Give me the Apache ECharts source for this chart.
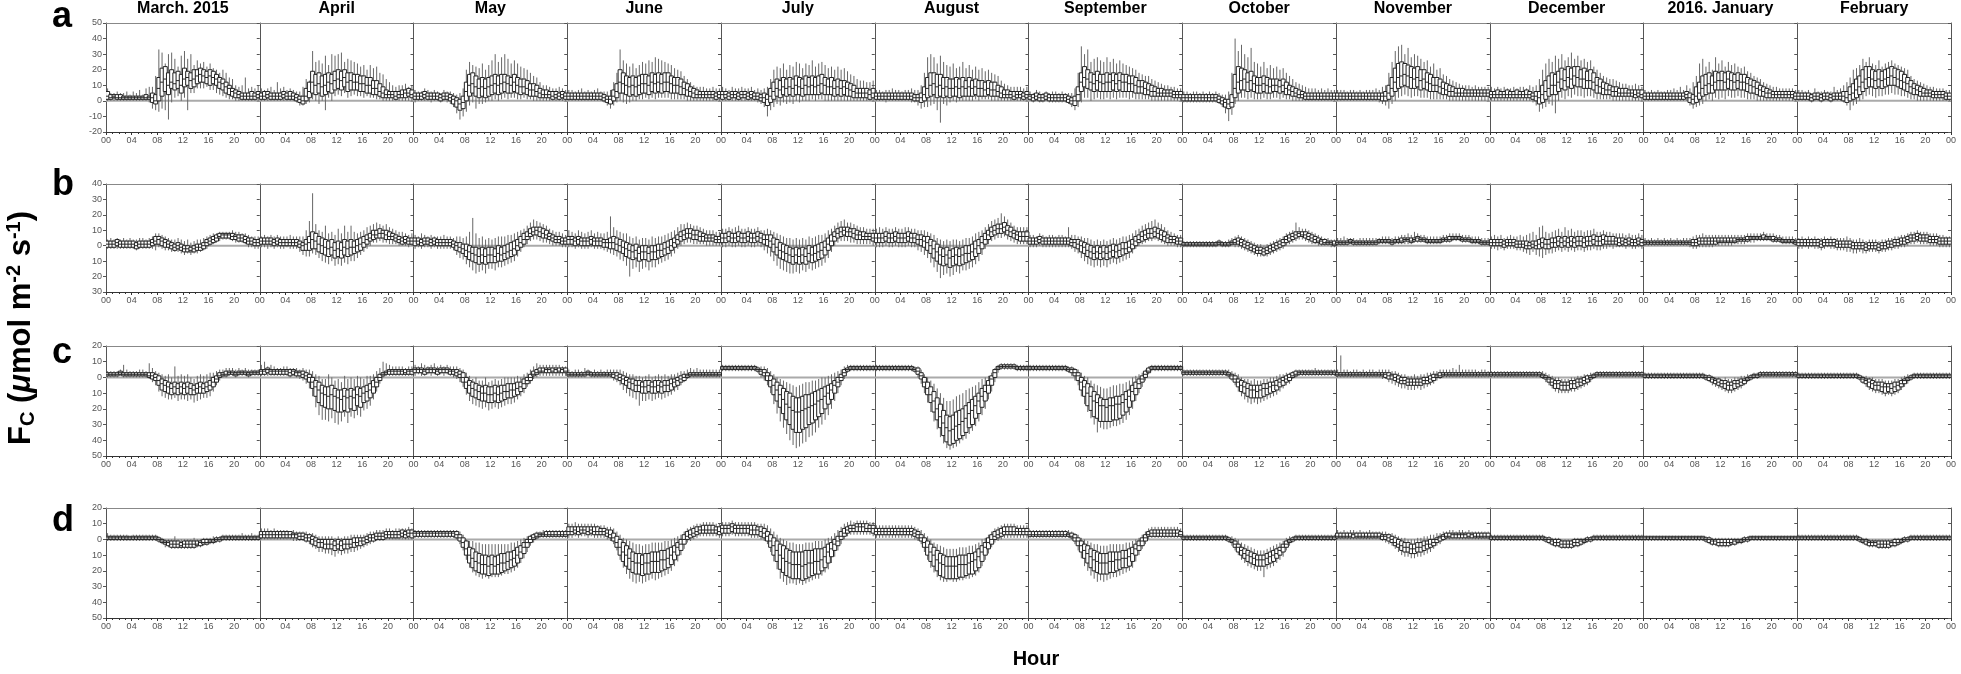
<!DOCTYPE html>
<html><head><meta charset="utf-8">
<script src="https://cdn.jsdelivr.net/npm/echarts@6/dist/echarts.min.js"></script>
<style>html,body{margin:0;padding:0;background:#fff}#c{width:1961px;height:674px}</style>
</head><body><div id="c"></div>
<script>
const months = ['March. 2015','April','May','June','July','August','September','October','November','December','2016. January','February'];
const rowLetters = ['a','b','c','d'];
const yMin = [-20,-30,-50,-50];
const yMax = [50,40,20,20];
const yStep = 10;
const hourStep = 4;
const xTitle = 'Hour';

// ---- Row a : 48 half-hourly boxes per month (lo, q1, median, q3, hi) ----
const aMed = [
[3,2,3,2,2,2,2,2,2,2,2,2,2,2,2,0,8,12,14,10,12,11,13,10,14,15,13,14,16,17,16,15,16,15,14,12,11,9,8,6,5,4,3,3,3,3,3,4],
[3,3,4,3,3,3,3,4,3,3,3,2,1,0,3,6,12,10,11,9,10,12,11,13,14,13,15,12,13,12,12,11,11,10,10,8,8,6,5,4,4,4,3,4,4,5,5,4],
[3,3,3,4,3,3,3,3,2,3,3,2,1,0,-2,-1,6,10,11,9,8,9,8,9,10,11,10,11,12,11,10,12,10,9,9,8,7,7,6,5,4,4,4,3,4,3,4,3],
[3,3,3,3,3,3,3,3,3,3,3,2,1,1,3,6,12,11,10,9,10,9,10,11,11,10,12,11,12,11,12,12,11,10,10,9,8,7,6,5,4,4,4,4,4,4,3,4],
[4,4,3,4,4,3,4,4,3,4,3,3,2,2,1,3,6,8,7,9,8,9,8,10,9,8,10,9,10,9,10,11,10,9,9,8,9,8,9,8,7,6,5,5,5,5,4,5],
[3,3,3,3,3,3,3,3,3,3,3,3,2,2,2,4,8,10,11,9,10,8,9,8,8,9,8,9,8,9,8,9,8,8,7,8,7,7,6,5,4,4,4,3,4,4,3,4],
[3,2,3,2,2,3,2,2,2,2,2,2,1,0,0,4,12,15,14,12,11,13,12,11,12,12,13,11,13,12,12,11,11,10,9,9,8,7,6,6,5,5,5,5,5,4,4,4],
[2,2,2,2,2,2,2,2,2,2,2,1,0,-1,-2,-1,8,12,13,14,12,13,11,10,10,11,10,9,10,10,9,10,8,7,6,5,4,4,3,3,3,3,3,3,3,3,3,3],
[3,3,3,3,3,3,3,3,3,3,3,3,3,3,3,3,5,8,12,15,16,17,16,15,14,15,13,14,12,11,10,10,9,8,7,6,6,5,5,5,5,5,5,5,5,5,5,5],
[4,4,4,4,4,4,4,4,4,4,4,4,4,3,3,2,4,6,8,10,10,12,14,13,15,14,16,15,14,14,13,13,12,10,9,8,7,7,6,6,5,5,5,5,5,4,5,4],
[3,3,3,3,3,3,3,3,3,3,3,3,3,4,2,1,3,5,8,10,11,10,12,13,13,12,14,13,12,13,12,12,11,10,9,8,7,6,5,5,4,4,4,4,4,4,4,3],
[3,3,3,3,2,3,3,2,3,3,2,3,3,3,3,2,4,5,7,9,12,14,15,14,13,14,13,14,15,16,15,14,13,12,11,9,8,7,6,5,5,5,4,4,4,4,3,3]
];
const aQ1 = [
[1,1,2,1,1,1,1,1,1,1,1,1,1,1,-1,-2,0,3,6,4,8,7,8,5,9,10,8,9,11,12,12,11,10,11,10,8,7,5,4,3,2,2,1,1,1,1,1,2],
[1,1,2,1,1,1,1,2,1,1,1,0,-1,-2,0,2,5,4,5,3,4,6,5,7,8,7,9,6,7,7,7,6,6,5,5,4,4,3,2,2,2,2,1,2,2,2,3,2],
[1,1,1,2,1,1,1,1,0,1,1,0,-2,-4,-6,-5,0,3,5,3,2,3,2,3,4,5,4,5,6,5,5,6,5,4,5,4,3,3,3,2,2,2,2,1,2,1,2,1],
[1,1,1,1,1,1,1,1,1,1,1,0,-1,-2,0,2,5,5,4,3,4,3,4,5,5,4,6,5,6,5,6,6,5,5,5,4,4,3,3,2,2,2,2,2,2,2,1,2],
[1,2,1,2,2,1,2,2,1,2,1,1,0,-1,-3,-1,1,3,2,4,3,4,3,4,4,3,4,4,4,4,4,5,4,4,4,3,4,3,4,3,3,2,2,2,2,2,1,2],
[1,1,1,1,1,1,1,1,1,1,1,1,0,0,-1,0,2,3,4,2,3,2,3,2,3,3,2,3,3,3,3,4,3,3,3,4,3,3,3,2,2,2,2,1,2,2,1,2],
[1,0,1,0,0,1,0,0,0,0,0,0,-1,-2,-3,0,6,9,8,7,6,7,6,6,6,6,7,6,7,6,6,6,6,5,5,5,4,4,3,3,3,3,3,3,3,2,2,2],
[0,0,0,0,0,0,0,0,0,0,0,-1,-2,-4,-5,-4,2,5,7,7,6,7,6,5,5,6,5,5,6,6,5,6,4,4,3,3,2,2,1,1,1,1,1,1,1,1,1,1],
[1,1,1,1,1,1,1,1,1,1,1,1,1,1,0,0,1,3,6,8,9,10,9,8,8,9,7,8,7,6,6,6,5,4,4,3,3,3,3,3,3,3,3,3,3,3,3,3],
[2,2,2,2,2,2,2,2,2,2,2,2,2,1,0,-2,-1,1,3,4,4,6,8,7,9,8,10,9,9,8,8,8,7,5,5,4,4,4,3,3,3,3,3,3,3,2,3,2],
[1,1,1,1,1,1,1,1,1,1,1,1,1,2,-1,-2,-1,1,3,4,5,5,7,7,7,7,8,7,7,8,7,7,6,5,5,4,3,3,2,2,2,2,2,2,2,2,2,1],
[1,1,1,1,0,1,1,0,1,1,0,1,1,1,0,-1,0,1,2,4,6,8,9,9,8,9,8,9,10,10,10,9,8,7,6,5,4,4,3,3,3,3,2,2,2,2,1,1]
];
const aQ3 = [
[6,4,4,4,4,3,3,3,3,3,3,3,4,3,5,4,15,21,22,18,20,18,19,17,21,19,18,20,20,21,20,19,20,19,17,15,14,12,10,8,7,6,5,5,5,6,5,6],
[5,6,6,5,5,5,5,6,5,6,5,4,3,3,8,12,19,17,18,16,17,18,17,19,20,19,20,18,18,17,17,16,16,15,15,13,13,11,9,7,6,6,6,6,7,7,8,7],
[5,5,5,6,5,5,5,5,4,5,5,4,3,2,1,3,12,17,18,16,14,15,14,15,16,17,16,17,17,16,15,17,15,14,14,13,11,11,10,8,7,7,6,6,6,5,6,5],
[5,5,5,5,5,5,5,5,5,5,5,4,3,3,7,11,20,18,16,15,16,15,16,17,17,16,18,17,18,17,18,18,16,15,15,14,12,11,9,8,7,6,6,6,6,6,5,6],
[6,6,5,6,6,5,6,6,5,6,5,5,4,5,4,8,12,14,13,15,14,15,14,16,15,14,16,15,16,15,16,17,15,14,15,13,14,13,13,12,11,10,8,8,8,8,7,8],
[5,5,5,5,5,5,5,5,5,5,5,5,4,4,5,9,15,18,18,17,17,15,15,14,14,15,14,15,13,15,13,14,13,13,12,13,12,12,10,9,7,7,6,6,6,6,5,6],
[4,4,5,4,4,5,4,4,4,4,4,4,3,2,3,9,18,22,20,18,17,19,17,17,18,17,18,17,18,17,17,16,16,15,13,13,12,11,10,9,8,8,7,7,7,6,6,6],
[4,4,4,4,4,4,4,4,4,4,4,3,2,1,1,4,17,22,21,20,18,19,16,15,15,16,15,14,14,14,13,14,12,10,9,8,7,6,5,5,5,5,5,5,5,5,5,5],
[5,5,5,5,5,5,5,5,5,5,5,5,5,5,5,6,10,15,21,24,25,24,23,22,21,22,20,20,18,17,15,15,14,12,11,10,9,8,8,8,7,7,7,7,7,7,7,7],
[6,6,7,6,6,7,6,6,7,6,6,7,6,5,6,6,10,13,16,18,17,19,21,20,22,21,22,22,20,21,19,20,18,15,14,12,11,10,9,9,8,8,8,7,7,7,7,7],
[5,5,5,5,5,5,5,5,5,5,5,5,5,6,5,4,9,12,16,17,18,16,19,18,19,18,19,18,17,18,17,17,15,14,13,12,10,9,8,7,6,6,6,6,6,6,6,5],
[5,5,5,5,4,5,5,4,5,5,4,5,5,5,6,6,9,11,14,16,20,22,22,20,19,20,19,20,21,22,21,20,19,17,15,13,11,10,9,8,7,7,6,6,6,6,5,5]
];
const aLo = [
[0,0,0,0,0,0,0,0,0,0,0,0,0,-1,-5,-6,-7,-5,-6,-12,-1,2,3,0,2,-6,5,5,8,8,8,9,7,7,5,4,3,2,1,1,0,0,0,0,0,0,0,0],
[0,0,0,0,0,0,0,0,0,0,0,-1,-3,-3,-2,-1,1,0,-2,0,-6,2,0,3,4,3,5,2,3,4,3,3,2,3,2,2,1,1,0,0,0,0,0,0,0,0,0,0],
[-1,0,0,0,0,-1,0,0,-1,0,-1,-2,-4,-8,-12,-10,-7,-3,-1,-5,-2,-2,-1,0,0,1,0,1,2,1,2,2,1,1,2,1,1,0,0,0,0,0,0,0,0,0,0,0],
[0,0,0,0,0,0,0,0,0,0,0,-1,-3,-5,-3,-1,0,-1,-2,-1,0,0,1,1,2,1,2,1,2,2,2,2,1,1,1,1,1,0,0,0,0,0,0,0,0,0,0,0],
[0,0,0,0,0,0,0,0,0,0,0,-1,-2,-4,-10,-6,-4,-2,-3,-1,-2,-1,-2,0,-1,0,0,0,1,0,1,1,0,0,0,0,0,0,0,0,0,0,0,0,0,0,0,0],
[0,0,0,-1,0,0,0,0,0,0,0,-1,-1,-3,-5,-4,-4,-3,-2,-6,-14,-2,-3,-1,0,-1,0,0,0,0,0,1,0,1,1,1,0,0,0,0,0,0,0,0,0,0,0,0],
[0,-1,0,-1,-1,0,-1,-1,-1,-1,-1,-1,-2,-4,-6,-4,-1,2,2,0,1,2,1,1,2,1,2,1,2,2,2,1,2,1,1,1,1,1,0,0,0,0,0,0,0,0,0,0],
[-1,-1,-1,-1,-1,-1,-1,-1,-1,-1,-1,-2,-4,-8,-13,-9,-2,0,2,2,1,2,1,1,1,2,1,1,2,2,1,2,1,1,0,0,0,0,0,0,0,0,0,0,0,0,0,0],
[0,0,0,0,0,0,0,0,0,0,0,0,0,-1,-2,-3,-5,-2,0,2,3,4,3,2,3,3,2,2,2,1,1,1,1,1,1,0,0,0,0,0,0,0,0,0,0,0,0,0],
[0,0,0,0,0,0,0,0,0,0,0,0,0,-1,-3,-7,-5,-4,-2,-3,-8,0,2,1,3,2,4,3,3,2,3,3,2,1,1,1,1,1,0,0,0,0,0,0,0,0,0,0],
[0,0,0,0,0,0,0,0,0,0,0,0,0,0,-3,-5,-4,-3,-2,0,1,0,2,1,2,1,3,2,2,3,2,2,1,1,1,0,0,0,0,0,0,0,0,0,0,0,0,0],
[0,0,0,0,-1,0,0,-1,0,0,-1,0,0,0,-1,-3,-6,-3,-2,0,1,3,4,3,2,3,3,4,4,5,4,4,3,3,2,1,1,0,0,0,0,0,0,0,0,0,0,0]
];
const aHi = [
[8,5,5,6,5,5,6,4,6,5,7,4,8,9,9,16,33,31,24,30,31,27,22,29,32,27,30,23,26,24,25,22,24,21,20,18,20,18,15,14,10,9,10,15,8,9,8,10],
[8,7,8,9,7,12,8,9,7,8,7,6,6,9,14,13,32,25,26,24,29,23,30,29,30,31,25,27,26,25,24,22,23,20,23,21,22,18,17,14,12,10,9,10,10,11,9,10],
[7,6,6,8,7,6,7,6,5,7,6,6,5,4,5,8,20,25,23,22,21,24,20,23,26,30,25,28,30,27,24,26,24,22,21,20,18,16,15,12,10,10,9,8,8,9,8,7],
[7,7,6,7,8,6,7,6,7,8,6,6,6,7,12,18,33,26,24,22,24,21,23,25,24,26,25,28,27,26,25,24,23,21,20,19,16,14,12,10,9,9,9,8,8,9,8,8],
[9,8,7,9,8,8,9,8,8,9,7,8,7,8,9,14,20,22,21,24,20,23,22,25,24,21,24,23,26,22,24,25,23,21,22,20,22,20,21,19,17,16,14,13,13,12,12,13],
[7,7,6,7,7,8,7,7,6,7,7,8,7,7,10,18,28,30,28,24,29,25,23,22,24,21,22,25,21,23,20,22,20,21,19,20,18,17,16,13,11,10,9,9,9,9,8,9],
[6,5,7,6,5,6,5,6,6,5,6,5,5,5,8,18,35,30,33,25,27,28,26,25,28,25,27,24,26,24,23,22,21,20,18,17,16,16,14,13,12,11,10,10,9,9,8,8],
[6,6,5,6,6,5,6,5,6,5,6,5,4,4,6,18,40,32,36,30,28,34,25,24,22,25,21,23,21,22,20,21,18,16,14,12,11,10,9,8,8,8,7,8,7,8,7,7],
[7,7,7,6,7,7,6,7,6,7,7,7,8,7,9,10,18,25,32,35,36,30,34,28,30,29,27,25,26,22,24,20,21,17,16,14,13,12,11,10,10,10,9,10,9,9,9,9],
[9,8,9,8,9,8,8,9,8,9,9,8,10,9,10,14,20,24,27,25,29,27,30,26,28,31,27,29,26,27,25,26,22,20,18,16,15,14,14,13,12,11,11,10,10,11,10,9],
[7,6,7,6,7,6,6,7,7,8,7,9,7,10,8,12,16,24,27,22,25,20,28,24,26,22,25,23,24,22,21,22,19,18,16,15,14,12,11,10,9,9,8,8,8,8,8,7],
[7,7,6,7,5,8,6,6,7,6,6,9,7,8,10,12,15,20,21,23,27,25,28,24,23,26,22,24,25,26,24,23,22,21,20,16,14,13,12,11,10,9,9,8,8,8,7,7]
];

// ---- Row b ----
const bMed = [
[1,1,1,2,1,1,1,1,1,0,1,1,1,1,2,3,4,3,2,1,0,-1,0,-1,-2,-2,-3,-2,-1,-1,0,2,3,4,5,6,7,7,7,6,6,5,5,4,3,3,2,2],
[3,3,3,3,2,3,2,2,2,2,2,2,1,0,1,2,4,3,1,0,-1,-2,-1,-3,-2,-3,-1,-2,-1,-1,0,1,2,4,5,7,7,8,8,7,6,6,5,4,3,4,3,3],
[3,3,2,3,3,2,3,2,2,2,2,2,1,0,-1,-2,-3,-4,-5,-6,-7,-6,-7,-6,-6,-7,-5,-6,-5,-4,-3,-2,0,2,4,6,8,9,10,9,8,7,6,5,4,4,3,3],
[4,4,3,4,3,3,3,4,3,3,3,2,2,2,2,1,0,-1,-2,-3,-4,-3,-5,-4,-4,-5,-4,-4,-3,-3,-2,-1,0,2,4,6,7,8,8,7,7,6,6,5,5,5,4,4],
[5,5,6,5,5,6,5,5,6,5,5,6,5,4,4,3,1,-1,-3,-4,-5,-6,-7,-6,-7,-6,-7,-5,-6,-5,-4,-3,-1,1,3,6,8,9,10,9,9,8,7,7,6,6,6,5],
[5,5,5,6,5,5,6,5,5,5,6,5,5,4,4,3,2,0,-2,-4,-6,-7,-6,-8,-7,-6,-7,-6,-5,-5,-4,-2,0,2,4,7,9,10,11,11,12,10,9,8,7,6,6,6],
[3,3,3,4,3,3,3,3,3,3,3,3,3,2,2,1,0,-1,-3,-4,-5,-4,-5,-4,-5,-4,-3,-4,-3,-2,-2,-1,1,3,4,6,7,8,8,9,8,7,6,5,4,4,3,3],
[1,1,1,1,1,1,1,1,1,1,1,2,1,1,1,2,2,3,2,1,0,-1,-2,-3,-3,-4,-3,-2,-1,0,1,2,4,5,6,7,8,7,7,6,5,4,3,3,2,2,2,1],
[2,2,2,2,3,2,2,2,2,2,2,2,2,3,3,3,3,2,3,3,3,4,4,3,4,5,4,4,3,3,3,3,3,4,4,4,5,5,5,4,4,4,3,3,3,2,2,2],
[2,2,2,2,1,2,2,2,1,1,1,0,0,1,0,1,2,1,1,2,2,3,2,3,2,3,2,3,3,2,3,3,4,3,3,4,3,3,3,3,2,3,2,3,2,2,3,2],
[2,2,2,2,2,2,2,2,2,2,2,2,2,2,2,2,2,3,3,3,3,3,3,3,3,3,3,3,3,4,4,4,4,5,5,5,5,5,5,5,4,4,4,3,3,3,3,2],
[2,2,2,2,2,2,2,1,2,2,2,2,1,1,1,1,1,0,0,0,0,-1,0,0,0,-1,0,0,1,1,2,2,3,3,4,5,5,6,5,5,5,4,4,4,3,3,3,3]
];
const bQ1 = [
[-1,-1,-1,0,-1,-1,-1,-1,-1,-2,-1,-1,-1,-1,0,1,1,0,-1,-1,-2,-3,-2,-3,-4,-4,-4,-4,-3,-3,-2,0,1,2,3,5,5,5,5,4,4,3,3,2,1,1,0,0],
[1,1,1,1,0,1,0,0,0,0,0,0,-1,-3,-3,-3,-2,-2,-4,-5,-6,-7,-6,-8,-7,-8,-6,-7,-6,-5,-4,-3,-1,1,3,4,5,5,5,4,4,4,3,2,1,2,1,1],
[0,1,0,1,1,0,1,0,0,0,0,0,-1,-3,-4,-5,-7,-9,-10,-11,-12,-11,-12,-11,-11,-11,-10,-10,-9,-8,-7,-6,-3,-1,1,4,6,7,7,6,5,5,4,3,2,2,1,1],
[1,1,0,1,0,0,0,1,0,0,0,-1,-1,-2,-2,-3,-4,-5,-7,-8,-9,-8,-10,-9,-9,-10,-9,-9,-8,-7,-6,-5,-3,-1,1,3,4,5,5,4,4,3,3,3,3,3,2,2],
[2,2,3,2,2,3,2,2,3,2,2,3,2,1,0,-1,-4,-6,-8,-9,-10,-11,-12,-11,-12,-11,-12,-10,-11,-10,-9,-8,-6,-3,0,3,5,6,7,6,6,5,4,4,4,4,4,3],
[2,2,2,3,2,2,3,2,2,2,3,2,2,1,0,-1,-3,-5,-8,-10,-12,-13,-12,-14,-13,-12,-13,-12,-11,-10,-9,-7,-5,-2,1,4,6,7,8,8,9,7,6,5,4,3,3,3],
[1,1,1,2,1,1,1,1,1,1,1,1,1,0,-1,-2,-4,-5,-7,-8,-9,-8,-9,-8,-9,-8,-7,-8,-7,-6,-5,-4,-2,0,2,3,4,5,5,6,5,4,3,2,2,2,1,1],
[0,0,0,0,0,0,0,0,0,0,0,1,0,0,0,1,1,1,0,-1,-2,-3,-4,-5,-5,-6,-5,-4,-3,-2,-1,0,2,3,4,5,6,6,5,4,3,2,2,1,1,1,1,0],
[1,1,1,1,2,1,1,1,1,1,1,1,1,2,2,2,2,1,2,2,2,3,3,2,3,3,3,3,2,2,2,2,2,3,3,3,4,4,4,3,3,3,2,2,2,1,1,1],
[0,0,0,0,-1,0,0,0,-1,-1,-1,-2,-2,-1,-2,-2,-1,-2,-2,-1,-1,0,-1,0,-1,0,-1,0,0,-1,0,0,1,0,0,1,1,1,1,1,0,1,0,1,0,0,1,0],
[1,1,1,1,1,1,1,1,1,1,1,1,1,1,1,0,0,1,1,1,1,1,1,2,2,2,2,2,2,3,3,3,3,4,4,4,4,4,4,4,3,3,3,2,2,2,2,1],
[0,0,0,0,0,0,0,-1,0,0,0,0,-1,-1,-1,-1,-1,-2,-2,-2,-2,-3,-2,-2,-2,-3,-2,-2,-1,-1,0,0,1,1,2,3,3,4,3,3,3,2,2,2,1,1,1,1]
];
const bQ3 = [
[3,3,3,4,3,3,3,3,3,2,3,3,3,3,4,6,6,5,4,3,2,1,2,1,0,0,-1,0,1,1,2,4,5,6,7,8,8,8,8,8,7,7,7,6,5,5,4,4],
[5,5,5,5,4,5,4,4,4,4,4,4,3,2,4,6,9,8,6,5,4,3,4,2,3,2,4,3,4,3,4,5,6,7,8,10,10,11,10,10,9,8,7,6,5,6,5,5],
[5,5,4,5,5,4,5,4,4,4,4,4,3,2,2,1,1,0,-1,-1,-2,-1,-2,-1,-1,-2,0,-1,0,1,2,3,4,6,8,9,11,12,12,12,11,10,8,7,6,6,5,5],
[6,6,5,6,5,5,5,6,5,5,5,4,4,5,6,5,4,3,2,1,0,1,-1,0,0,-1,0,0,1,1,2,3,4,5,7,9,10,11,11,10,10,9,8,7,7,7,6,6],
[8,8,9,8,8,9,8,8,9,8,8,9,8,7,7,7,5,4,2,1,0,-1,-2,-1,-2,-1,-2,0,-1,0,1,2,3,5,7,9,11,12,12,12,11,11,10,9,9,8,8,8],
[8,8,8,9,8,8,9,8,8,8,9,8,8,7,7,6,6,4,3,1,-1,-2,-1,-3,-2,-1,-2,-1,0,0,1,3,4,6,8,10,12,13,14,14,15,13,12,10,9,9,9,9],
[5,5,5,6,5,5,5,5,5,5,5,5,5,4,4,4,3,2,1,0,-1,0,-1,0,-1,0,1,0,1,2,2,3,4,6,7,9,10,11,11,12,11,10,9,7,6,6,5,5],
[2,2,2,2,2,2,2,2,2,2,2,3,2,2,2,3,4,5,4,3,2,1,0,-1,-1,-2,-1,0,1,2,3,4,6,7,8,9,9,9,9,8,7,6,5,4,4,3,3,3],
[3,3,3,3,4,3,3,3,3,3,3,3,3,4,4,4,4,3,4,4,5,5,5,5,5,6,5,5,4,4,4,4,4,5,5,6,6,6,6,5,5,5,4,4,4,3,3,3],
[4,4,4,4,3,4,4,4,3,3,3,3,2,3,3,4,5,4,4,5,5,6,5,6,5,6,5,6,6,5,6,6,7,6,6,7,6,6,6,5,5,5,4,5,4,4,5,4],
[3,3,3,3,3,3,3,3,3,3,3,3,3,3,3,4,4,5,5,5,5,5,5,5,5,5,5,5,5,5,5,5,6,6,6,6,6,7,6,6,6,5,5,4,4,4,4,3],
[4,4,4,4,4,4,4,3,4,4,4,4,3,3,3,3,3,2,2,2,2,1,2,2,2,1,2,2,3,3,4,4,5,5,6,7,7,8,7,7,7,6,6,6,5,5,5,5]
];
const bLo = [
[-2,-2,-2,-2,-2,-2,-2,-2,-2,-3,-2,-2,-2,-2,-2,-3,-1,-2,-3,-3,-4,-4,-4,-5,-6,-5,-6,-5,-5,-4,-3,-2,0,1,2,3,4,4,4,3,2,2,2,1,-1,-1,-2,-2],
[-1,-1,-2,-1,-2,-1,-2,-2,-1,-2,-2,-2,-4,-6,-7,-7,-5,-6,-8,-10,-11,-12,-10,-13,-12,-13,-11,-12,-10,-10,-8,-6,-4,-2,0,2,2,3,2,2,1,1,1,0,0,0,-1,0],
[-2,-1,-2,-1,-1,-2,-1,-2,-2,-2,-2,-2,-3,-6,-8,-9,-12,-14,-16,-18,-17,-16,-18,-15,-15,-16,-14,-14,-13,-12,-11,-10,-7,-4,-1,1,3,4,4,3,2,2,1,0,0,0,-1,-1],
[-1,-1,-2,-1,-2,-2,-2,-1,-2,-2,-2,-3,-4,-5,-6,-7,-9,-10,-13,-20,-15,-14,-17,-15,-14,-16,-14,-14,-12,-11,-10,-9,-7,-5,-2,0,1,2,2,1,1,1,1,0,0,0,0,0],
[-1,-1,0,-1,-1,0,-1,-1,0,-1,-1,0,-1,-3,-5,-7,-10,-13,-15,-16,-17,-18,-18,-17,-18,-16,-17,-15,-16,-15,-14,-13,-11,-8,-4,0,2,3,3,3,2,2,1,1,1,1,1,0],
[-1,-1,-1,0,-1,-1,0,-1,-1,-1,0,-1,-1,-3,-4,-6,-8,-11,-14,-17,-21,-19,-18,-20,-19,-17,-18,-16,-16,-15,-14,-12,-10,-6,-2,1,3,4,5,5,6,4,3,2,1,1,1,1],
[-1,-1,-1,0,-1,-1,-1,-1,-1,-1,-1,-1,-1,-2,-4,-5,-8,-10,-12,-13,-14,-13,-14,-13,-14,-12,-11,-12,-11,-10,-9,-8,-5,-2,0,1,2,3,3,4,3,2,1,0,0,0,-1,-1],
[-1,-1,-1,-1,-1,-1,-1,-1,-1,-1,-1,0,-1,-1,-1,0,-1,-1,-2,-3,-4,-5,-6,-7,-7,-7,-7,-6,-5,-4,-3,-2,0,1,2,3,4,4,3,2,1,1,0,0,0,0,-1,-1],
[0,0,0,0,1,0,0,0,0,0,0,0,0,1,1,1,1,0,1,1,1,1,1,1,2,2,2,2,1,1,1,1,1,2,2,2,3,3,3,2,2,2,1,1,1,0,0,0],
[-2,-2,-3,-2,-3,-2,-2,-2,-3,-3,-4,-5,-6,-4,-6,-7,-8,-6,-5,-5,-4,-3,-4,-3,-4,-3,-4,-3,-3,-4,-3,-3,-2,-3,-3,-2,-2,-1,-2,-1,-1,-1,-2,-1,-2,-2,-1,-2],
[0,0,0,0,0,0,0,0,0,0,0,0,0,0,-1,-2,-2,-1,-1,-1,-1,-1,0,0,0,0,0,0,1,1,1,1,2,2,2,3,3,3,3,3,2,2,2,1,1,1,1,0],
[-2,-2,-1,-2,-1,-2,-2,-3,-2,-1,-2,-2,-3,-3,-3,-4,-4,-5,-5,-4,-5,-5,-4,-4,-4,-5,-4,-4,-3,-3,-2,-2,-1,-1,0,1,1,2,1,1,1,0,0,0,-1,-1,-1,-1]
];
const bHi = [
[4,5,4,5,4,5,4,5,4,4,5,5,4,5,6,8,8,7,6,5,4,4,5,4,3,4,2,3,4,4,5,6,7,8,8,9,9,9,9,10,9,9,8,8,7,6,6,6],
[6,7,6,7,6,7,6,6,6,7,6,6,6,6,10,16,34,14,10,9,13,8,9,7,11,8,13,9,13,9,8,9,10,12,13,14,15,14,13,14,12,11,10,9,9,8,7,8],
[7,6,8,7,6,7,6,6,6,7,6,6,5,6,6,5,6,9,18,8,5,6,4,5,4,5,6,6,6,7,7,8,9,10,11,13,15,17,16,15,14,13,11,10,9,9,8,7],
[10,9,8,10,9,8,9,10,8,9,8,8,9,19,12,10,9,8,8,6,5,6,4,5,5,4,6,5,6,6,7,8,9,10,12,14,14,15,14,13,13,12,11,10,10,10,9,9],
[11,11,12,11,12,13,11,11,12,11,11,12,10,10,11,10,9,8,7,6,5,5,4,5,4,5,4,6,5,6,7,7,8,10,11,13,15,16,17,15,15,14,13,12,12,11,11,11],
[11,12,11,12,11,11,12,11,11,12,12,11,11,10,10,10,9,8,7,5,4,3,4,3,4,4,3,4,5,5,6,8,9,10,12,14,16,17,18,21,19,17,15,13,12,12,12,12],
[7,7,6,8,7,6,7,7,6,7,7,6,12,7,7,6,6,5,5,4,3,4,3,4,3,4,5,4,5,6,6,7,8,10,11,13,14,15,16,17,15,14,12,10,9,8,7,7],
[3,3,3,3,3,3,3,3,3,3,3,4,3,3,4,5,6,7,6,5,4,3,2,1,1,0,1,2,3,4,5,6,8,9,10,15,12,11,11,10,9,8,7,6,5,5,4,4],
[5,5,6,5,5,5,4,5,5,5,5,5,5,5,6,6,6,5,6,6,7,7,8,7,9,8,7,7,6,6,6,6,6,7,7,8,8,8,8,7,7,7,6,6,6,5,5,5],
[6,7,6,7,5,6,7,6,6,7,6,7,8,9,7,12,13,9,8,9,10,11,9,12,10,11,9,10,10,9,10,10,11,9,9,10,9,9,8,8,8,8,7,8,7,7,8,7],
[5,4,5,4,5,4,5,4,5,4,5,4,5,5,5,6,7,7,8,7,7,7,7,7,7,7,7,7,7,7,7,7,8,8,8,8,8,9,8,8,8,7,7,6,6,6,6,5],
[5,6,5,6,5,6,5,5,6,5,6,5,5,5,5,6,5,4,4,5,4,3,4,4,4,3,4,4,5,5,6,6,7,7,8,9,9,10,9,9,9,8,8,8,7,7,6,6]
];

// ---- Row c ----
const cMed = [
[2,2,2,2,3,2,2,2,2,2,2,2,2,1,1,0,-2,-4,-5,-6,-7,-6,-7,-6,-7,-6,-7,-8,-7,-6,-7,-6,-5,-3,-1,1,2,2,3,3,2,3,3,3,2,3,3,3],
[4,4,5,4,4,4,4,4,4,3,4,3,3,2,1,0,-3,-6,-8,-10,-11,-12,-11,-12,-13,-14,-12,-13,-12,-13,-11,-12,-10,-9,-8,-6,-3,0,2,3,4,4,4,4,4,3,4,4],
[5,5,5,4,5,5,5,4,5,5,5,4,4,3,2,0,-3,-5,-7,-8,-9,-10,-10,-11,-11,-10,-11,-10,-9,-9,-8,-8,-7,-6,-4,-2,0,2,3,4,4,5,5,4,5,4,5,4],
[2,2,2,2,2,2,3,2,2,2,2,2,2,2,2,1,0,-1,-2,-3,-4,-5,-5,-6,-6,-5,-6,-6,-5,-6,-5,-5,-4,-3,-2,-1,0,1,2,2,2,2,2,2,2,2,2,2],
[6,6,6,6,6,6,6,6,6,6,6,5,4,3,1,-2,-5,-8,-11,-14,-17,-19,-21,-22,-22,-21,-20,-19,-18,-17,-15,-14,-12,-10,-8,-5,-3,0,3,5,6,6,6,6,6,6,6,6],
[6,6,6,6,6,6,6,6,6,6,6,6,5,4,1,-3,-7,-11,-15,-20,-25,-29,-32,-34,-33,-31,-30,-28,-26,-23,-21,-18,-15,-12,-9,-5,-1,3,6,7,7,7,7,7,6,6,6,6],
[6,6,6,6,6,6,6,6,6,6,6,6,5,5,3,1,-3,-6,-10,-12,-15,-16,-18,-18,-19,-18,-18,-17,-17,-16,-14,-12,-9,-7,-4,-1,2,4,6,6,6,6,6,6,6,6,6,6],
[3,3,3,3,3,3,3,3,3,3,3,3,3,3,2,1,-1,-3,-5,-6,-7,-8,-8,-9,-8,-7,-7,-6,-5,-5,-3,-2,-1,0,1,2,3,3,3,3,3,3,3,3,3,3,3,3],
[2,2,2,2,2,2,2,2,2,2,2,2,2,2,2,2,1,1,0,-1,-2,-2,-3,-3,-3,-3,-3,-2,-2,-1,0,1,1,2,2,2,2,2,2,2,2,2,2,2,2,2,2,2],
[2,2,2,2,2,2,2,2,2,2,2,2,2,2,2,2,1,0,-1,-3,-4,-4,-5,-5,-5,-4,-4,-3,-3,-2,-1,0,1,2,2,2,2,2,2,2,2,2,2,2,2,2,2,2],
[1,1,1,1,1,1,1,1,1,1,1,1,1,1,1,1,1,1,1,0,0,-1,-2,-3,-4,-4,-5,-5,-4,-4,-3,-2,-1,0,1,1,2,2,2,2,2,2,2,2,2,2,2,2],
[1,1,1,1,1,1,1,1,1,1,1,1,1,1,1,1,1,1,1,0,-1,-2,-3,-4,-5,-5,-6,-6,-6,-7,-6,-5,-4,-2,-1,0,1,1,1,1,1,1,1,1,1,1,1,1]
];
const cQ1 = [
[1,1,1,1,2,1,1,1,1,1,1,1,1,0,-1,-2,-5,-8,-9,-10,-11,-10,-11,-10,-11,-10,-11,-11,-10,-10,-10,-9,-8,-6,-3,0,1,1,2,2,1,2,2,2,1,2,2,2],
[2,2,3,2,2,2,2,2,2,1,2,1,1,0,-1,-3,-7,-12,-16,-18,-19,-20,-20,-21,-22,-22,-21,-22,-20,-21,-18,-19,-16,-15,-13,-10,-6,-2,1,2,2,2,2,2,2,2,2,2],
[3,3,3,2,3,3,3,2,3,3,3,2,2,1,0,-3,-7,-10,-12,-13,-14,-15,-15,-16,-16,-15,-16,-15,-14,-13,-13,-12,-11,-9,-7,-4,-2,1,2,3,3,3,3,3,3,3,3,3],
[1,1,1,1,1,1,2,1,1,1,1,1,1,1,0,-1,-2,-4,-5,-7,-8,-9,-9,-10,-10,-9,-10,-10,-9,-10,-9,-9,-8,-6,-5,-3,-2,0,1,1,1,1,1,1,1,1,1,1],
[5,5,5,5,5,5,5,5,5,5,5,4,2,1,-2,-6,-11,-15,-19,-23,-27,-30,-33,-35,-35,-33,-32,-30,-29,-27,-25,-23,-20,-17,-14,-10,-6,-2,1,4,5,5,5,5,5,5,5,5],
[5,5,5,5,5,5,5,5,5,5,5,5,4,2,-1,-6,-11,-16,-22,-27,-32,-37,-41,-43,-42,-40,-39,-37,-35,-32,-30,-26,-23,-19,-15,-10,-5,0,5,6,6,6,6,6,5,5,5,5],
[5,5,5,5,5,5,5,5,5,5,5,5,4,3,1,-2,-8,-12,-18,-21,-25,-26,-28,-28,-28,-28,-27,-27,-26,-24,-22,-19,-15,-11,-7,-3,0,3,5,5,5,5,5,5,5,5,5,5],
[2,2,2,2,2,2,2,2,2,2,2,2,2,2,1,-1,-3,-6,-9,-10,-12,-13,-13,-13,-13,-12,-11,-10,-9,-8,-6,-5,-3,-2,0,1,2,2,2,2,2,2,2,2,2,2,2,2],
[1,1,1,1,1,1,1,1,1,1,1,1,1,1,1,0,-1,-1,-2,-3,-4,-4,-5,-5,-5,-5,-5,-4,-4,-3,-2,0,0,1,1,1,1,1,1,1,1,1,1,1,1,1,1,1],
[1,1,1,1,1,1,1,1,1,1,1,1,1,1,1,1,0,-1,-3,-5,-7,-7,-8,-8,-8,-7,-7,-6,-5,-4,-3,-1,0,1,1,1,1,1,1,1,1,1,1,1,1,1,1,1],
[0,0,0,0,0,0,0,0,0,0,0,0,0,0,0,0,0,0,0,-1,-2,-3,-4,-5,-6,-7,-8,-8,-7,-6,-5,-4,-2,-1,0,0,1,1,1,1,1,1,1,1,1,1,1,1],
[0,0,0,0,0,0,0,0,0,0,0,0,0,0,0,0,0,0,0,-1,-3,-4,-6,-7,-8,-8,-9,-10,-9,-10,-9,-8,-6,-4,-2,-1,0,0,0,0,0,0,0,0,0,0,0,0]
];
const cQ3 = [
[3,3,3,3,4,3,3,3,3,3,3,3,3,3,3,2,1,-1,-2,-3,-4,-3,-4,-3,-4,-3,-4,-5,-4,-3,-4,-3,-2,0,1,3,3,4,4,4,3,4,4,4,3,4,4,4],
[5,5,6,5,5,5,5,5,5,5,5,4,4,4,3,2,0,-2,-3,-5,-6,-6,-5,-7,-8,-8,-7,-8,-7,-8,-6,-7,-6,-5,-4,-2,0,2,3,4,5,5,5,5,5,5,5,5],
[6,6,6,5,6,6,6,5,6,6,6,5,5,5,4,3,0,-2,-3,-4,-5,-6,-5,-6,-6,-5,-6,-5,-5,-4,-4,-4,-3,-3,-1,0,2,4,5,6,6,6,6,6,6,6,6,6],
[3,3,3,3,3,3,4,3,3,3,3,3,3,3,3,3,2,1,0,-1,-1,-2,-2,-3,-2,-2,-3,-2,-2,-3,-2,-2,-1,-1,0,1,2,2,3,3,3,3,3,3,3,3,3,3],
[7,7,7,7,7,7,7,7,7,7,7,6,5,5,3,1,-1,-3,-5,-7,-9,-10,-12,-13,-13,-12,-11,-11,-10,-9,-8,-7,-6,-5,-4,-2,0,2,5,6,7,7,7,7,7,7,7,7],
[7,7,7,7,7,7,7,7,7,7,7,7,6,6,3,0,-3,-6,-9,-13,-17,-21,-24,-25,-24,-22,-21,-20,-18,-16,-14,-12,-10,-7,-5,-2,1,5,7,8,8,8,8,8,7,7,7,7],
[7,7,7,7,7,7,7,7,7,7,7,7,6,6,5,3,0,-2,-4,-6,-9,-11,-13,-14,-14,-13,-13,-12,-12,-11,-9,-8,-5,-3,-1,1,4,6,7,7,7,7,7,7,7,7,7,7],
[4,4,4,4,4,4,4,4,4,4,4,4,4,4,3,2,1,-1,-2,-3,-4,-5,-5,-5,-5,-4,-4,-3,-3,-2,-1,0,1,2,3,4,4,4,4,4,4,4,4,4,4,4,4,4],
[3,3,3,3,3,3,3,3,3,3,3,3,3,3,3,3,3,2,2,1,0,0,-1,-1,-1,-1,-1,0,0,1,2,2,3,3,3,3,3,3,3,3,3,3,3,3,3,3,3,3],
[3,3,3,3,3,3,3,3,3,3,3,3,3,3,3,3,2,1,0,-1,-2,-2,-3,-3,-3,-2,-2,-1,-1,0,1,1,2,3,3,3,3,3,3,3,3,3,3,3,3,3,3,3],
[2,2,2,2,2,2,2,2,2,2,2,2,2,2,2,2,2,2,2,1,1,0,-1,-1,-2,-2,-3,-3,-2,-2,-1,-1,0,1,2,2,3,3,3,3,3,3,3,3,3,3,3,3],
[2,2,2,2,2,2,2,2,2,2,2,2,2,2,2,2,2,2,2,1,0,-1,-1,-2,-3,-3,-3,-4,-4,-4,-3,-3,-2,-1,0,1,2,2,2,2,2,2,2,2,2,2,2,2]
];
const cLo = [
[0,0,0,0,1,0,0,0,0,0,0,0,0,-1,-3,-5,-9,-12,-13,-14,-14,-13,-15,-14,-14,-15,-14,-16,-15,-14,-13,-13,-12,-9,-5,-2,0,0,1,1,0,1,1,1,0,1,1,1],
[1,1,1,1,1,1,1,1,1,0,1,0,-1,-2,-4,-7,-12,-19,-24,-27,-27,-28,-26,-29,-30,-28,-25,-29,-25,-26,-24,-25,-21,-20,-18,-14,-9,-4,0,1,1,1,1,1,1,1,1,1],
[1,2,1,1,2,1,2,1,2,1,2,1,0,-1,-3,-6,-11,-15,-17,-18,-19,-20,-19,-21,-20,-19,-20,-19,-18,-17,-17,-16,-14,-12,-10,-6,-4,-1,0,1,1,1,1,1,1,1,1,1],
[0,0,0,0,0,0,1,0,0,0,0,0,0,0,-2,-3,-5,-8,-10,-12,-13,-14,-18,-15,-15,-14,-15,-14,-13,-14,-13,-12,-11,-9,-8,-5,-3,-1,0,0,0,0,0,0,0,0,0,0],
[4,4,4,4,4,4,4,4,4,4,4,3,0,-2,-5,-10,-17,-23,-28,-32,-36,-40,-43,-45,-44,-42,-41,-38,-37,-35,-32,-30,-27,-24,-20,-15,-10,-5,-1,3,4,4,4,4,4,4,4,4],
[4,4,4,4,4,4,4,4,4,4,4,4,3,0,-4,-10,-16,-22,-28,-33,-38,-42,-45,-46,-45,-44,-42,-40,-39,-36,-34,-31,-28,-24,-20,-14,-9,-3,3,5,5,5,5,5,4,4,4,4],
[4,4,4,4,4,4,4,4,4,4,4,4,3,1,-2,-5,-12,-17,-22,-26,-30,-35,-32,-33,-33,-32,-31,-31,-30,-29,-27,-24,-20,-15,-10,-6,-2,2,4,4,4,4,4,4,4,4,4,4],
[1,1,1,1,1,1,1,1,1,1,1,1,1,1,0,-2,-5,-9,-12,-14,-16,-17,-16,-17,-16,-15,-14,-13,-12,-11,-9,-7,-5,-4,-1,0,1,1,1,1,1,1,1,1,1,1,1,1],
[0,0,0,0,0,0,0,0,0,0,0,0,0,0,-1,-1,-3,-4,-5,-6,-7,-7,-8,-8,-8,-7,-8,-7,-6,-5,-4,-2,-1,0,0,0,0,0,0,0,0,0,0,0,0,0,0,0],
[0,0,0,0,0,0,0,0,0,0,0,0,0,0,0,0,-1,-3,-5,-7,-9,-10,-10,-10,-10,-9,-9,-8,-7,-6,-5,-3,-1,0,0,0,0,0,0,0,0,0,0,0,0,0,0,0],
[-1,-1,-1,-1,-1,-1,-1,-1,-1,-1,-1,-1,-1,-1,-1,-1,-1,-1,-1,-2,-3,-5,-6,-7,-8,-9,-10,-10,-9,-8,-7,-5,-3,-2,-1,-1,0,0,0,0,0,0,0,0,0,0,0,0],
[-1,-1,-1,-1,-1,-1,-1,-1,-1,-1,-1,-1,-1,-1,-1,-1,-1,-1,-1,-2,-4,-6,-8,-9,-10,-10,-11,-12,-11,-12,-11,-10,-8,-6,-4,-2,-1,-1,-1,-1,-1,-1,-1,-1,-1,-1,-1,-1]
];
const cHi = [
[4,4,4,4,5,8,5,4,4,4,5,5,4,9,6,4,3,2,1,2,0,7,1,2,1,2,0,-1,1,2,1,2,3,3,4,5,5,6,6,6,5,6,5,6,5,5,5,5],
[8,10,7,8,7,6,6,7,7,6,6,6,5,6,5,5,4,2,1,-1,-1,2,0,-2,-1,-3,1,-1,0,-1,1,0,-1,1,1,2,4,6,10,9,8,7,7,7,7,6,7,7],
[8,7,9,8,7,8,9,7,8,7,8,7,7,7,6,5,3,1,-1,0,-2,-2,0,-3,-2,-1,-2,-1,0,0,0,0,1,0,2,3,5,7,9,8,8,8,8,8,8,8,7,7],
[5,4,5,5,4,6,5,4,5,4,5,4,5,5,5,5,5,4,3,2,2,1,1,0,1,2,0,1,2,1,2,1,2,2,3,4,4,5,6,5,6,5,5,5,5,5,5,5],
[8,8,8,8,8,8,8,8,8,8,8,7,7,7,6,4,2,0,-1,-2,-3,-4,-5,-6,-5,-4,-3,-3,-2,-2,-1,0,0,1,2,3,4,5,7,8,8,8,8,8,8,8,8,8],
[8,8,8,8,8,8,8,8,8,8,8,8,7,7,5,2,0,-2,-4,-7,-10,-13,-15,-15,-14,-12,-11,-10,-8,-7,-6,-5,-3,-1,0,1,3,6,8,9,9,9,9,9,8,8,8,8],
[8,8,8,8,8,8,8,8,8,8,8,8,7,7,6,5,3,1,0,-2,-4,-5,-6,-7,-7,-6,-5,-5,-4,-4,-3,-2,0,1,2,3,5,7,8,8,8,8,8,8,8,8,8,8],
[5,5,5,5,5,5,5,5,5,5,5,5,5,5,5,4,3,2,0,-1,-1,-2,-1,-2,-2,-1,-1,0,0,1,2,2,3,3,4,5,5,5,5,5,5,6,5,5,5,5,5,5],
[5,14,5,5,4,5,5,4,5,4,5,5,4,5,5,5,5,4,4,3,2,2,1,1,2,1,2,2,3,3,4,4,5,5,5,5,6,5,8,5,5,5,5,5,4,5,5,4],
[4,4,4,4,4,4,4,4,4,4,4,4,4,4,4,4,4,3,2,1,0,0,-1,-1,-1,0,0,1,1,2,2,3,3,4,4,4,4,4,4,4,4,4,4,4,4,4,4,4],
[3,3,3,3,3,3,3,3,3,3,3,3,3,3,3,3,3,3,3,2,2,1,0,0,-1,0,-1,-1,0,0,1,1,2,2,3,3,4,4,4,4,4,4,4,4,4,4,4,4],
[3,3,3,3,3,3,3,3,3,3,3,3,3,3,3,3,3,3,3,2,1,1,0,0,-1,-1,-1,-2,-2,-2,-1,-1,0,1,2,2,3,3,3,3,3,3,3,3,3,3,3,3]
];

// ---- Row d ----
const dMed = [
[1,1,1,1,1,1,1,1,1,1,1,1,1,1,1,1,0,-1,-2,-2,-3,-3,-3,-4,-3,-3,-3,-3,-3,-2,-2,-2,-1,-1,0,0,1,1,1,1,1,1,1,1,1,1,1,1],
[3,3,3,3,3,3,3,3,3,3,3,3,2,2,1,1,0,-1,-2,-2,-3,-3,-3,-4,-3,-4,-3,-3,-3,-2,-2,-1,-1,0,1,1,2,2,2,3,3,3,3,3,4,3,4,4],
[4,4,4,4,4,4,4,4,4,4,4,4,4,3,1,-2,-6,-10,-12,-14,-15,-16,-16,-17,-16,-17,-16,-15,-15,-14,-13,-12,-10,-8,-5,-2,0,1,2,3,3,3,3,3,3,3,3,3],
[5,5,6,5,6,6,5,6,5,5,5,5,4,3,1,-2,-5,-8,-10,-12,-14,-15,-15,-16,-15,-15,-14,-14,-14,-13,-13,-12,-10,-8,-5,-3,0,2,3,4,5,6,6,6,6,6,6,5],
[7,7,7,8,7,7,7,7,7,6,6,6,5,4,2,-1,-4,-7,-10,-12,-14,-15,-16,-16,-16,-17,-16,-15,-15,-14,-14,-13,-11,-8,-6,-3,-1,2,4,6,7,7,8,8,8,7,7,7],
[5,5,5,5,5,5,5,5,5,5,5,5,4,3,1,-2,-5,-8,-10,-13,-15,-16,-17,-17,-17,-17,-16,-16,-16,-15,-14,-13,-11,-8,-5,-2,0,2,3,4,5,5,5,5,5,5,5,5],
[3,3,3,3,3,3,3,3,3,3,3,3,3,2,1,-1,-4,-7,-9,-11,-13,-14,-15,-15,-15,-14,-14,-13,-13,-12,-12,-11,-9,-6,-4,-1,1,3,4,4,4,4,4,4,4,4,4,3],
[1,1,1,1,1,1,1,1,1,1,1,1,1,1,0,-1,-3,-5,-7,-9,-10,-11,-12,-13,-13,-13,-12,-11,-10,-9,-7,-5,-3,-1,0,1,1,1,1,1,1,1,1,1,1,1,1,1],
[2,2,2,2,2,3,2,2,2,2,2,2,2,2,2,2,1,0,-2,-3,-4,-5,-5,-6,-6,-5,-5,-4,-3,-3,-2,0,1,2,2,2,3,3,3,3,3,2,3,2,2,2,2,2],
[1,1,1,1,1,1,1,1,1,1,1,1,1,1,1,1,1,0,0,-1,-2,-2,-3,-3,-3,-3,-2,-2,-1,-1,0,0,1,1,1,1,1,1,1,1,1,1,1,1,1,1,1,1],
[1,1,1,1,1,1,1,1,1,1,1,1,1,1,1,1,1,1,1,0,0,-1,-1,-2,-2,-2,-2,-2,-1,-1,-1,0,0,1,1,1,1,1,1,1,1,1,1,1,1,1,1,1],
[1,1,1,1,1,1,1,1,1,1,1,1,1,1,1,1,1,1,1,0,-1,-1,-2,-2,-2,-3,-3,-3,-3,-2,-2,-2,-1,0,0,1,1,1,1,1,1,1,1,1,1,1,1,1]
];
const dQ1 = [
[0,0,0,0,0,0,0,0,0,0,0,0,0,0,0,0,-1,-2,-3,-4,-5,-5,-5,-5,-5,-5,-5,-5,-4,-4,-3,-3,-2,-2,-1,-1,0,0,0,0,0,0,0,0,0,0,0,0],
[1,1,1,1,1,1,1,1,1,1,1,1,0,0,-1,-1,-3,-4,-5,-5,-6,-6,-6,-7,-6,-7,-6,-6,-5,-5,-4,-4,-3,-2,-1,-1,0,0,0,1,1,1,1,1,2,1,2,1],
[2,2,2,2,2,2,2,2,2,2,2,2,2,1,-1,-5,-10,-15,-18,-20,-21,-22,-22,-23,-22,-22,-22,-21,-20,-19,-18,-17,-15,-12,-9,-5,-2,0,1,2,2,2,2,2,2,2,2,2],
[3,3,4,3,4,4,3,4,3,3,3,3,2,1,-1,-5,-10,-14,-17,-19,-21,-22,-22,-23,-22,-22,-21,-21,-21,-20,-19,-18,-16,-13,-10,-7,-3,0,1,2,3,4,4,4,4,4,4,3],
[4,4,4,5,4,4,4,4,4,3,3,3,2,1,-1,-5,-10,-14,-19,-21,-23,-24,-25,-25,-25,-26,-25,-24,-23,-22,-22,-20,-18,-15,-11,-7,-4,0,2,4,5,5,5,5,5,5,5,4],
[3,3,3,3,3,3,3,3,3,3,3,3,2,1,-1,-5,-10,-14,-17,-20,-23,-24,-25,-25,-25,-25,-24,-24,-23,-22,-22,-20,-18,-14,-10,-6,-3,0,1,2,3,3,3,3,3,3,3,3],
[2,2,2,2,2,2,2,2,2,2,2,2,2,1,-1,-4,-8,-12,-15,-18,-20,-21,-22,-22,-22,-21,-21,-20,-19,-18,-18,-17,-14,-10,-7,-4,-1,2,2,2,2,2,2,2,2,2,2,2],
[0,0,0,0,0,0,0,0,0,0,0,0,0,0,-1,-2,-5,-8,-10,-12,-14,-15,-16,-17,-17,-17,-16,-15,-14,-12,-10,-8,-5,-2,-1,0,0,0,0,0,0,0,0,0,0,0,0,0],
[1,1,1,1,1,1,1,1,1,1,1,1,1,1,0,0,-1,-2,-4,-5,-7,-8,-8,-9,-9,-8,-8,-7,-6,-5,-4,-2,-1,0,1,1,1,1,1,1,1,1,1,1,1,1,1,1],
[0,0,0,0,0,0,0,0,0,0,0,0,0,0,0,0,0,-1,-2,-3,-4,-4,-5,-5,-5,-5,-4,-4,-3,-2,-1,-1,0,0,0,0,0,0,0,0,0,0,0,0,0,0,0,0],
[0,0,0,0,0,0,0,0,0,0,0,0,0,0,0,0,0,0,0,-1,-2,-3,-3,-4,-4,-4,-4,-3,-3,-2,-2,-1,-1,0,0,0,0,0,0,0,0,0,0,0,0,0,0,0],
[0,0,0,0,0,0,0,0,0,0,0,0,0,0,0,0,0,0,0,-1,-2,-3,-4,-4,-4,-5,-5,-5,-5,-4,-4,-3,-2,-1,-1,0,0,0,0,0,0,0,0,0,0,0,0,0]
];
const dQ3 = [
[2,2,2,2,2,2,2,2,2,2,2,2,2,2,2,2,1,0,-1,-1,-1,-1,-1,-2,-1,-1,-1,-1,-1,-1,0,0,0,0,1,1,2,2,2,2,2,2,2,2,2,2,2,2],
[5,5,5,5,5,5,5,5,5,5,4,4,4,4,3,3,2,1,0,0,0,0,0,-1,0,-1,0,0,0,1,1,1,1,2,3,3,4,4,4,5,5,5,5,5,6,5,6,6],
[5,5,5,5,5,5,5,5,5,5,5,5,5,5,3,1,-1,-5,-6,-8,-9,-10,-10,-11,-10,-11,-10,-9,-9,-8,-8,-7,-5,-4,-2,0,2,3,4,4,4,5,5,5,5,5,5,5],
[8,8,8,8,8,8,8,8,8,8,7,7,6,6,4,2,0,-2,-4,-6,-8,-9,-9,-10,-9,-9,-8,-8,-8,-7,-7,-6,-5,-4,-2,0,3,5,6,7,8,8,9,9,9,9,8,8],
[9,9,9,10,9,9,9,9,9,9,9,8,8,7,5,3,1,-1,-3,-4,-6,-7,-8,-8,-8,-8,-7,-7,-7,-6,-6,-6,-5,-3,-2,0,2,5,7,8,9,9,10,10,10,10,9,9],
[7,7,7,7,7,7,7,7,7,7,7,7,6,5,3,1,-1,-3,-5,-7,-9,-10,-11,-11,-11,-11,-10,-10,-10,-9,-9,-8,-6,-4,-2,1,3,5,6,7,8,8,8,8,7,7,7,7],
[5,5,5,5,5,5,5,5,5,5,5,5,4,4,3,1,-1,-3,-4,-6,-7,-8,-9,-9,-9,-8,-8,-8,-8,-7,-7,-6,-5,-3,-1,1,3,5,6,6,6,6,6,6,6,6,6,5],
[2,2,2,2,2,2,2,2,2,2,2,2,2,2,1,0,-1,-3,-5,-6,-7,-8,-9,-10,-10,-10,-9,-8,-7,-6,-5,-3,-1,0,1,2,2,2,2,2,2,2,2,2,2,2,2,2],
[4,4,4,4,4,4,4,4,4,4,4,4,4,4,3,3,3,2,1,0,-1,-2,-2,-3,-3,-2,-2,-1,-1,0,0,1,2,3,4,4,4,4,4,4,4,4,4,4,4,4,4,4],
[2,2,2,2,2,2,2,2,2,2,2,2,2,2,2,2,2,1,1,0,0,0,-1,-1,-1,-1,0,0,0,0,1,1,2,2,2,2,2,2,2,2,2,2,2,2,2,2,2,2],
[2,2,2,2,2,2,2,2,2,2,2,2,2,2,2,2,2,2,2,1,1,0,0,0,0,0,0,0,0,0,0,1,1,2,2,2,2,2,2,2,2,2,2,2,2,2,2,2],
[2,2,2,2,2,2,2,2,2,2,2,2,2,2,2,2,2,2,2,1,0,0,-1,-1,-1,-1,-1,-1,-1,-1,0,0,0,1,1,2,2,2,2,2,2,2,2,2,2,2,2,2]
];
const dLo = [
[-1,-1,-1,-1,-1,-1,-1,-1,-1,-1,-1,-1,-1,-1,-1,-1,-2,-3,-5,-5,-6,-6,-6,-6,-6,-6,-6,-6,-5,-5,-4,-4,-3,-3,-2,-2,-1,-1,-1,-1,-1,-1,-1,-1,-1,-1,-1,-1],
[0,0,0,0,0,0,0,0,0,0,-1,-1,-1,-1,-2,-3,-5,-6,-8,-8,-9,-9,-10,-11,-9,-10,-9,-9,-8,-8,-7,-6,-5,-4,-3,-2,-1,-1,-1,0,0,0,0,0,0,0,0,0],
[1,1,1,1,1,1,1,1,1,1,1,1,1,0,-3,-7,-13,-18,-21,-23,-24,-25,-24,-25,-24,-24,-24,-23,-22,-22,-21,-20,-18,-15,-12,-8,-4,-2,0,1,1,1,1,1,1,1,1,1],
[1,1,2,1,2,2,1,2,1,1,1,1,0,-1,-3,-7,-13,-18,-22,-25,-27,-28,-27,-28,-27,-26,-25,-26,-25,-24,-23,-22,-20,-17,-14,-10,-6,-2,-1,0,1,2,2,2,2,2,2,1],
[2,2,2,3,2,2,2,2,2,1,1,1,0,-1,-3,-8,-14,-19,-25,-27,-29,-28,-28,-29,-28,-29,-28,-27,-26,-25,-25,-23,-21,-19,-15,-11,-7,-3,0,2,3,3,3,3,3,3,3,2],
[1,1,1,1,1,1,1,1,1,1,1,1,0,-1,-3,-8,-13,-18,-21,-24,-26,-27,-27,-26,-27,-27,-26,-26,-25,-25,-24,-23,-21,-17,-13,-9,-5,-2,-1,0,1,1,1,1,1,1,1,1],
[1,1,1,1,1,1,1,1,1,1,1,1,1,0,-3,-7,-12,-17,-20,-23,-25,-27,-26,-27,-26,-25,-24,-24,-23,-22,-21,-20,-18,-14,-10,-6,-3,0,1,1,1,1,1,1,1,1,1,1],
[-1,-1,-1,-1,-1,-1,-1,-1,-1,-1,-1,-1,-1,-1,-2,-4,-7,-10,-13,-15,-17,-18,-19,-20,-20,-24,-19,-18,-17,-15,-13,-11,-7,-4,-2,-1,-1,-1,-1,-1,-1,-1,-1,-1,-1,-1,-1,-1],
[0,0,0,0,0,0,0,0,0,0,0,0,0,0,-1,-2,-3,-4,-6,-8,-10,-11,-11,-12,-12,-11,-11,-10,-9,-8,-6,-4,-3,-1,0,0,0,0,0,0,0,0,0,0,0,0,0,0],
[-1,-1,-1,-1,-1,-1,-1,-1,-1,-1,-1,-1,-1,-1,-1,-1,-1,-2,-3,-4,-5,-5,-6,-6,-6,-6,-5,-5,-4,-3,-2,-2,-1,-1,-1,-1,-1,-1,-1,-1,-1,-1,-1,-1,-1,-1,-1,-1],
[-1,-1,-1,-1,-1,-1,-1,-1,-1,-1,-1,-1,-1,-1,-1,-1,-1,-1,-1,-2,-3,-4,-4,-5,-5,-5,-5,-4,-4,-3,-3,-2,-2,-1,-1,-1,-1,-1,-1,-1,-1,-1,-1,-1,-1,-1,-1,-1],
[-1,-1,-1,-1,-1,-1,-1,-1,-1,-1,-1,-1,-1,-1,-1,-1,-1,-1,-1,-2,-3,-4,-5,-5,-5,-6,-6,-6,-6,-5,-5,-4,-3,-2,-2,-1,-1,-1,-1,-1,-1,-1,-1,-1,-1,-1,-1,-1]
];
const dHi = [
[4,3,3,3,3,3,3,2,3,3,3,3,3,3,3,3,2,1,0,0,0,2,0,0,0,0,0,1,0,0,1,1,1,2,2,2,3,3,3,3,3,3,4,3,3,4,3,3],
[7,7,7,6,7,6,6,6,6,5,6,5,5,5,5,4,4,3,2,2,2,2,2,1,2,1,2,2,3,3,3,3,3,4,5,5,6,6,6,7,7,6,7,7,7,7,8,7],
[6,6,6,6,6,6,6,6,6,6,6,6,6,6,5,3,0,-1,-1,-2,-2,-3,-3,-3,-3,-3,-3,-3,-3,-3,-2,-2,-1,0,1,2,3,4,5,5,6,6,6,6,6,6,6,6],
[10,10,11,10,10,10,10,10,10,9,9,9,8,8,7,5,3,1,0,-1,-2,-3,-3,-4,-3,-3,-2,-2,-2,-2,-1,-1,0,1,2,3,5,7,8,9,10,10,11,11,11,11,10,10],
[11,11,11,12,11,11,11,11,11,11,11,10,10,10,9,7,5,3,1,0,-1,-2,-2,-3,-3,-3,-2,-2,-2,-1,-1,-1,0,1,2,4,6,8,10,11,12,11,12,12,12,12,11,11],
[9,9,9,9,9,9,9,9,9,9,9,9,8,7,6,4,2,0,-2,-3,-4,-5,-6,-6,-6,-6,-5,-5,-5,-4,-4,-3,-2,0,1,3,5,7,8,9,10,10,10,10,9,9,9,9],
[6,6,6,6,6,6,6,6,6,6,6,6,6,5,4,3,1,0,-1,-2,-3,-3,-4,-4,-4,-3,-3,-3,-3,-3,-2,-2,-1,0,1,3,5,7,8,8,8,8,8,8,8,8,8,7],
[3,3,3,3,3,3,3,3,3,3,3,3,3,3,2,2,1,0,-2,-3,-4,-5,-6,-7,-7,-7,-6,-5,-4,-3,-2,-1,1,2,2,3,3,3,3,3,3,3,3,3,3,3,3,3],
[6,5,6,5,6,6,5,6,5,5,6,5,5,5,5,5,4,4,3,2,1,1,0,0,0,1,1,2,2,3,3,4,4,5,5,6,6,5,6,6,5,6,5,5,5,5,5,5],
[3,3,3,3,3,3,3,3,3,3,3,3,3,3,3,3,3,2,2,1,1,1,0,0,0,0,1,1,1,1,2,2,3,3,3,3,3,3,3,3,3,3,3,3,3,3,3,3],
[2,2,2,2,2,2,2,2,2,2,2,2,2,2,2,2,2,2,2,2,2,1,1,1,1,1,1,1,1,1,1,2,2,2,2,2,2,2,2,2,2,2,2,2,2,2,2,2],
[3,3,3,3,3,3,3,3,3,3,3,3,3,3,3,3,3,3,3,2,1,1,0,0,0,0,0,0,0,0,1,1,1,2,2,3,3,3,3,3,3,3,3,3,3,3,3,3]
];

// ---------------- layout (not data) ----------------
const LEFT = 106, PW = 153.75, W = PW * 12;
const gridBoxes = [{top:23,height:109},{top:184,height:108},{top:346,height:110},{top:508,height:110}];
const letterTop = [-1,167,335,503];
const rows = [
  {lo:aLo,q1:aQ1,med:aMed,q3:aQ3,hi:aHi},
  {lo:bLo,q1:bQ1,med:bMed,q3:bQ3,hi:bHi},
  {lo:cLo,q1:cQ1,med:cMed,q3:cQ3,hi:cHi},
  {lo:dLo,q1:dQ1,med:dMed,q3:dQ3,hi:dHi}
];
const HOURS = 24, NM = months.length, XMAX = HOURS * NM;
const lblFont = '"Liberation Sans Narrow","Liberation Sans",Arial,sans-serif';
const boldFont = '"Liberation Sans",Arial,sans-serif';

const option = {animation:false, backgroundColor:'#fff', grid:[], xAxis:[], yAxis:[], series:[], graphic:[]};

rows.forEach((row, r) => {
  const g = gridBoxes[r];
  option.grid.push({left:LEFT, width:W, top:g.top, height:g.height, containLabel:false});
  option.xAxis.push({
    type:'value', gridIndex:r, min:0, max:XMAX, interval:hourStep, position:'bottom',
    axisLine:{show:true, onZero:false, lineStyle:{color:'#333', width:1}},
    axisTick:{show:true, length:3, lineStyle:{color:'#333'}},
    minorTick:{show:true, splitNumber:hourStep, length:2, lineStyle:{color:'#333'}},
    splitLine:{show:false}, minorSplitLine:{show:false},
    axisLabel:{fontSize:9, color:'#555', margin:4, fontFamily:lblFont,
      formatter:v => { const h = Math.round(v) % HOURS; return (h < 10 ? '0' : '') + h; }}
  });
  option.xAxis.push({
    type:'value', gridIndex:r, min:0, max:XMAX, position:'top',
    axisLine:{show:true, onZero:false, lineStyle:{color:'#888', width:1}},
    axisTick:{show:false}, axisLabel:{show:false}, splitLine:{show:false}
  });
  for (let k = 0; k <= NM; k++) {
    option.yAxis.push({
      type:'value', gridIndex:r, min:yMin[r], max:yMax[r], interval:yStep,
      position:'left', offset:-k * PW,
      axisLine:{show:true, onZero:false, lineStyle:{color:'#555', width:1}},
      axisTick:{show:true, length:3, lineStyle:{color:'#555'}},
      splitLine:{show:false},
      axisLabel:{show:k === 0, fontSize:9, color:'#555', margin:4, fontFamily:lblFont,
        formatter: r === 0 ? (v => String(v)) : (v => String(Math.abs(v)))}
    });
  }
  // zero reference line
  option.series.push({
    type:'line', xAxisIndex:2 * r, yAxisIndex:r * (NM + 1), data:[[0,0],[XMAX,0]],
    symbol:'none', silent:true, z:1, lineStyle:{color:'#aaa', width:2}
  });
  // box & whisker marks
  const data = [];
  for (let m = 0; m < NM; m++) {
    const n = row.med[m].length;
    for (let i = 0; i < n; i++) {
      const x = m * HOURS + (i + 0.5) * HOURS / n;
      data.push([x, row.lo[m][i], row.q1[m][i], row.med[m][i], row.q3[m][i], row.hi[m][i]]);
    }
  }
  option.series.push({
    type:'custom', xAxisIndex:2 * r, yAxisIndex:r * (NM + 1), z:2, silent:true,
    encode:{x:0, y:[1,2,3,4,5]}, data:data, clip:true,
    renderItem:(params, api) => {
      const x = api.value(0);
      const pl = api.coord([x, api.value(1)]);
      const p1 = api.coord([x, api.value(2)]);
      const pm = api.coord([x, api.value(3)]);
      const p3 = api.coord([x, api.value(4)]);
      const ph = api.coord([x, api.value(5)]);
      const bw = 4;
      return {type:'group', children:[
        {type:'line', shape:{x1:pl[0], y1:pl[1], x2:ph[0], y2:ph[1]}, style:{stroke:'#666', lineWidth:1}},
        {type:'rect', shape:{x:p1[0] - bw / 2, y:Math.min(p1[1], p3[1]), width:bw, height:Math.max(1, Math.abs(p1[1] - p3[1]))},
          style:{fill:'#fff', stroke:'#222', lineWidth:1}},
        {type:'line', shape:{x1:pm[0] - bw / 2, y1:pm[1], x2:pm[0] + bw / 2, y2:pm[1]}, style:{stroke:'#222', lineWidth:1}}
      ]};
    }
  });
  option.graphic.push({type:'text', left:52, top:letterTop[r], silent:true,
    style:{text:rowLetters[r], font:'bold 36px ' + boldFont, fill:'#000'}});
});

months.forEach((name, m) => {
  option.graphic.push({type:'text', x:LEFT + (m + 0.5) * PW, y:9, silent:true,
    style:{text:name, font:'bold 16px ' + boldFont, fill:'#000', textAlign:'center', align:'center',
      textVerticalAlign:'middle', verticalAlign:'middle'}});
});

option.graphic.push({type:'text', x:1036, y:659, silent:true,
  style:{text:xTitle, font:'bold 20px ' + boldFont, fill:'#000', textAlign:'center', align:'center',
    textVerticalAlign:'middle', verticalAlign:'middle'}});

option.graphic.push({type:'text', x:21, y:328, rotation:Math.PI / 2, silent:true,
  style:{text:'{b|F}{sub|C}{b| (}{i|μ}{b|mol m}{sup|-2}{b| s}{sup|-1}{b|)}',
    textAlign:'center', align:'center', textVerticalAlign:'middle', verticalAlign:'middle',
    rich:{
      b:{font:'bold 31px ' + boldFont, fill:'#000', color:'#000', lineHeight:34, verticalAlign:'middle'},
      i:{font:'italic bold 31px ' + boldFont, fill:'#000', color:'#000', lineHeight:34, verticalAlign:'middle'},
      sub:{font:'bold 20px ' + boldFont, fill:'#000', color:'#000', lineHeight:34, verticalAlign:'bottom'},
      sup:{font:'bold 20px ' + boldFont, fill:'#000', color:'#000', lineHeight:34, verticalAlign:'top'}
    }}});

const chart = echarts.init(document.getElementById('c'), null, {renderer:'canvas', width:1961, height:674});
chart.setOption(option);
</script>
</body></html>
